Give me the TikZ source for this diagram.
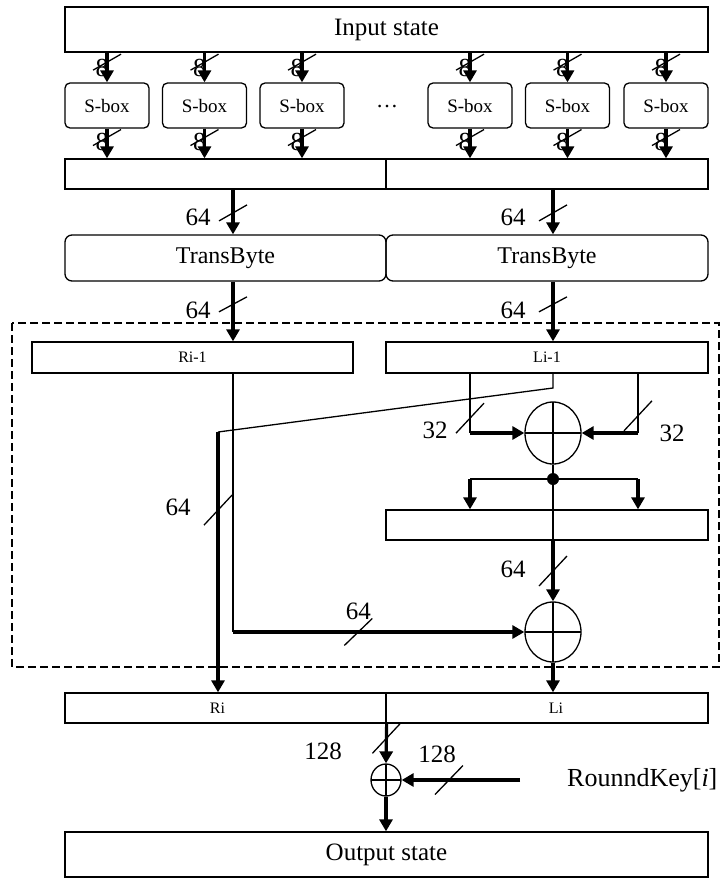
\documentclass[tikz,border=0pt]{standalone}
\usepackage{fontspec}
\setmainfont{Liberation Serif}
\usetikzlibrary{arrows.meta, calc, shapes.geometric}

\begin{document}
\begin{tikzpicture}[
        x=1pt, y=-1pt,
        >={Triangle[length=12pt, width=13pt]},
        % Styles des boîtes
        bar/.style={draw, line width=1.3pt, minimum height=30pt, inner sep=0pt,
                    font=\fontsize{16}{18}\selectfont},
        state/.style={bar, minimum width=643pt, minimum height=45pt,
                      font=\fontsize{25}{30}\selectfont},
        sbox/.style={draw, line width=1.3pt, rounded corners=5pt, inner sep=0pt,
                     minimum width=84pt, minimum height=45pt,
                     font=\fontsize{19}{22}\selectfont},
        tbox/.style={sbox, rounded corners=7pt, minimum width=321pt,
                     minimum height=46pt, font=\fontsize{24}{28}\selectfont},
        xorop/.style={ellipse, draw, line width=1.3pt, inner sep=0pt,
                      path picture={\draw[line width=1.3pt]
                        (path picture bounding box.north) -- (path picture bounding box.south)
                        (path picture bounding box.west) -- (path picture bounding box.east);}},
        % Styles des liaisons
        wire/.style={line width=1.3pt},
        bus/.style={->, line width=3.2pt},
        num/.style={font=\fontsize{25}{30}\selectfont, inner sep=0pt},
        eight/.style={font=\fontsize{26}{30}\selectfont, inner sep=0pt},
        frame/.style={line width=2pt, dash pattern=on 8pt off 4pt},
        pics/cut/.style={code={\draw[wire] (-14,#1) -- (14,-#1);}},
    ]
        \useasboundingbox (0,0) rectangle (721,878);

        %% ── Nœuds ──

        \node[state] (input) at (386.5,29.5) {Input state};
        \foreach \x [count=\i] in {107,204.5,302,470,567.5,666}
            \node[sbox] (s\i) at (\x,105.5) {S-box};
        \node[font=\fontsize{22}{24}\selectfont] (dots) at (387,107) {…};

        \node[bar, minimum width=321pt] (mixL) at (225.5,174) {};
        \node[bar, minimum width=322pt] (mixR) at (547,174) {};
        \node[tbox] (tbL) at (225.5,258) {TransByte};
        \node[tbox, minimum width=322pt] (tbR) at (547,258) {TransByte};

        % Tour de Feistel
        \node[bar, minimum width=321pt, minimum height=31pt] (rprev) at (192.5,357.5) {Ri-1};
        \node[bar, minimum width=322pt, minimum height=31pt] (lprev) at (547,357.5) {Li-1};
        \node[xorop, minimum width=56pt, minimum height=62pt] (xa) at (553,433) {};
        \node[circle, fill, inner sep=0pt, minimum size=12pt] (jct) at (553,479) {};
        \node[bar, minimum width=322pt] (perm) at (547,525) {};
        \node[xorop, minimum width=56pt, minimum height=60pt] (xb) at (553,632) {};

        \node[bar, minimum width=321pt] (ri) at (225.5,708) {\kern-16pt Ri};
        \node[bar, minimum width=322pt] (li) at (547,708) {\kern18pt Li};
        \node[xorop, minimum width=30pt, minimum height=32pt] (xc) at (386,780) {};
        \node[num, anchor=west, font=\fontsize{26}{30}\selectfont] (key) at (567,780) {RounndKey[\textit{i}]};
        \node[state] (output) at (386.5,854.5) {Output state};

        \coordinate (colL) at (233,0);
        \coordinate (colR) at (553,0);
        \coordinate (brL)  at (470,0);
        \coordinate (brR)  at (638,0);
        \coordinate (bend) at (553,388);
        \coordinate (knee) at (218,432);
        \coordinate (keyin) at (520,780);

        \draw[frame] (12,323) rectangle (719,667);

        %% ── Liaisons ──

        \foreach \i in {1,...,6} {
            \draw[bus] (input.south -| s\i) -- node[eight, pos=.5, xshift=-5pt]{8} (s\i.north);
            \pic at ($(input.south -| s\i)!.32!(s\i.north)$) {cut=8};
            \draw[bus] (s\i.south) -- node[eight, pos=.45, xshift=-5pt]{8} (mixL.north -| s\i);
            \pic at ($(s\i.south)!.3!(mixL.north -| s\i)$) {cut=8};
        }

        \draw[bus] (mixL.south -| colL) -- node[num, pos=.63, xshift=-35pt]{64} (tbL.north -| colL);
        \pic at ($(mixL.south -| colL)!.52!(tbL.north -| colL)$) {cut=8};
        \draw[bus] (mixR.south -| colR) -- node[num, pos=.63, xshift=-40pt]{64} (tbR.north -| colR);
        \pic at ($(mixR.south -| colR)!.52!(tbR.north -| colR)$) {cut=8};

        \draw[bus] (tbL.south -| colL) -- node[num, pos=.48, xshift=-35pt]{64} (rprev.north -| colL);
        \pic at ($(tbL.south -| colL)!.38!(rprev.north -| colL)$) {cut=7.5};
        \draw[bus] (tbR.south -| colR) -- node[num, pos=.48, xshift=-40pt]{64} (lprev.north -| colR);
        \pic at ($(tbR.south -| colR)!.38!(lprev.north -| colR)$) {cut=7.5};

        % Branche de gauche (Ri-1 vers le second XOR)
        \draw[wire] (rprev.south -| colL) -- (xb.west -| colL);
        \draw[bus] (xb.west -| colL) -- node[num, pos=.43, above=11pt]{64} (xb.west);
        \pic at ($(xb.west -| colL)!.43!(xb.west)$) {cut=13.5};

        % Li-1 devient Ri
        \draw[wire] (lprev.south -| colR) -- (bend) -- (knee);
        \draw[bus] (knee) -- node[num, pos=.29, xshift=-40pt]{64} (ri.north -| knee);
        \pic at ($(knee)!.3!(ri.north -| knee)$) {cut=15};

        % Fonction de tour
        \draw[wire] (lprev.south -| brL) -- node[num, pos=.95, xshift=-35pt]{32} (xa.west -| brL);
        \draw[bus] (xa.west -| brL) -- (xa.west);
        \pic at ($(lprev.south -| brL)!.75!(xa.west -| brL)$) {cut=15};
        \draw[wire] (lprev.south -| brR) -- node[num, pos=1, xshift=34pt]{32} (xa.east -| brR);
        \draw[bus] (xa.east -| brR) -- (xa.east);
        \pic at ($(lprev.south -| brR)!.71!(xa.east -| brR)$) {cut=15};

        \draw[wire] (xa.south) -- (jct);
        \draw[wire] (jct -| brL) -- (jct -| brR);
        \draw[bus] (jct -| brL) -- (perm.north -| brL);
        \draw[bus] (jct -| brR) -- (perm.north -| brR);
        \draw[wire] (jct) -- (perm.south -| jct);
        \draw[bus] (perm.south -| colR) -- node[num, pos=.48, xshift=-40pt]{64} (xb.north);
        \pic at ($(perm.south -| colR)!.5!(xb.north)$) {cut=15};
        \draw[bus] (xb.south) -- (li.north -| xb);

        % Ajout de la clé de tour
        \draw[bus] (ri.south east) -- node[num, pos=.7, xshift=-63pt]{128} (xc.north);
        \pic at ($(ri.south east)!.37!(xc.north)$) {cut=15};
        \draw[bus] (keyin) -- node[num, pos=.7, above=16pt]{128} (xc.east);
        \pic at ($(keyin)!.6!(xc.east)$) {cut=14.5};
        \draw[bus] (xc.south) -- (output.north -| xc);

    \end{tikzpicture}
\end{document}
